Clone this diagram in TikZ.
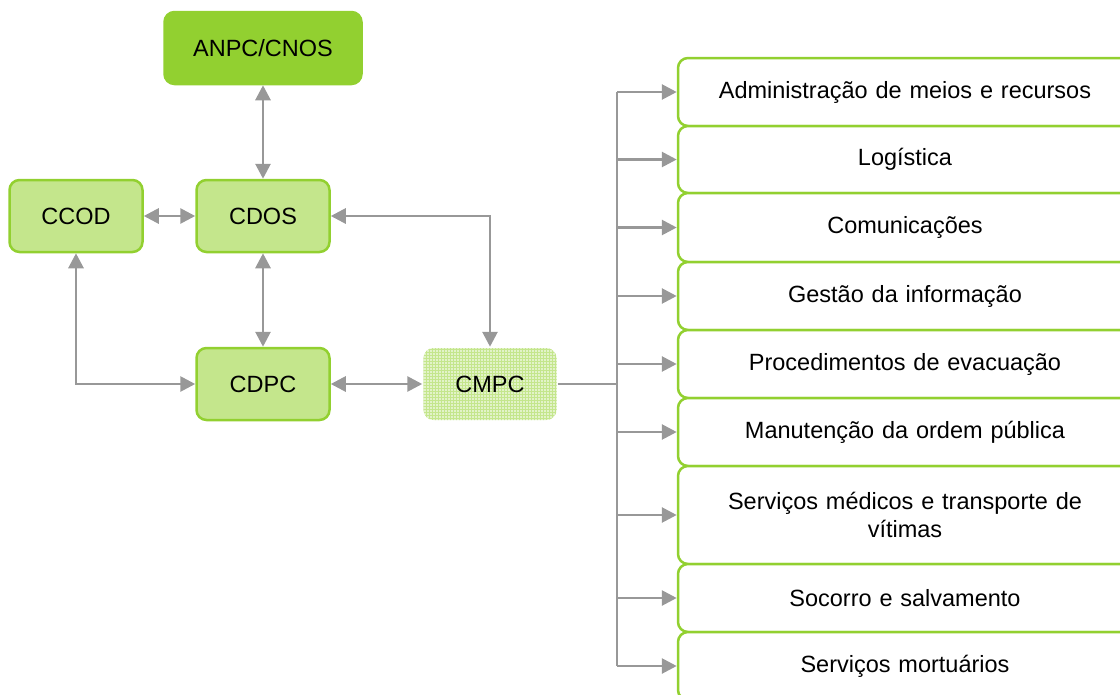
\documentclass[tikz,border=0pt]{standalone}
\usepackage{fontspec}
\setmainfont{Liberation Sans}
\usetikzlibrary{arrows.meta,patterns}
\definecolor{vivo}{RGB}{146,208,48}
\definecolor{claro}{RGB}{196,230,140}
\definecolor{padrao}{RGB}{226,243,200}
\definecolor{cinza}{RGB}{152,152,152}
\tikzset{
  caixa/.style={draw=vivo, line width=2.5pt, rounded corners=10pt, fill=claro,
    minimum width=133pt, minimum height=72pt, inner sep=0pt,
    font=\fontsize{23.5}{28}\selectfont},
  funcao/.style={draw=vivo, line width=2.5pt, rounded corners=10pt, fill=white,
    minimum width=454pt, text width=420pt, align=center, inner sep=0pt,
    font=\fontsize{23.5}{28}\selectfont},
  liga/.style={draw=cinza, line width=2.8pt, {Triangle[length=15pt,width=15pt]}-{Triangle[length=15pt,width=15pt]}},
  sai/.style={draw=cinza, line width=2.8pt, -{Triangle[length=15pt,width=15pt]}},
  tronco/.style={draw=cinza, line width=2.8pt}
}
\begin{document}
\begin{tikzpicture}[x=1pt,y=-1pt]
\useasboundingbox (0,0) rectangle (1120,694);
\node[caixa, fill=vivo, minimum width=197pt] (anpc) at (263,48) {ANPC/CNOS};
\node[caixa] (ccod) at (76,216) {CCOD};
\node[caixa] (cdos) at (263,216) {CDOS};
\node[caixa] (cdpc) at (263,384) {CDPC};
\node[caixa, draw=none, fill=padrao, postaction={pattern=grid, pattern color=claro}] (cmpc) at (490,384) {CMPC};
\draw[liga] (anpc) -- (cdos);
\draw[liga] (ccod) -- (cdos);
\draw[liga] (cdos) -- (cdpc);
\draw[liga] (ccod.south) |- (cdpc.west);
\draw[liga] (cdos.east) -| (cmpc.north);
\draw[liga] (cdpc) -- (cmpc);
\coordinate (tronco) at (617,384);
\foreach \nome/\yc/\alt/\txt in {adm/92/68/Administração de meios e recursos,
    log/159.5/67/Logística, com/227.5/69/Comunicações, ges/296/68/Gestão da informação,
    eva/364/68/Procedimentos de evacuação, ord/432/68/Manutenção da ordem pública,
    med/515/98/Serviços médicos e transporte de\\vítimas, soc/598/68/Socorro e salvamento,
    mort/666/68/Serviços mortuários}{
  \node[funcao, minimum height=\alt pt] (\nome) at (905,\yc) {\txt};
  \draw[sai] (tronco |- \nome.west) -- (\nome.west);
}
\draw[tronco] (tronco |- adm.west) -- (tronco |- mort.west);
\draw[tronco] (cmpc.east) -- (tronco);
\end{tikzpicture}
\end{document}
